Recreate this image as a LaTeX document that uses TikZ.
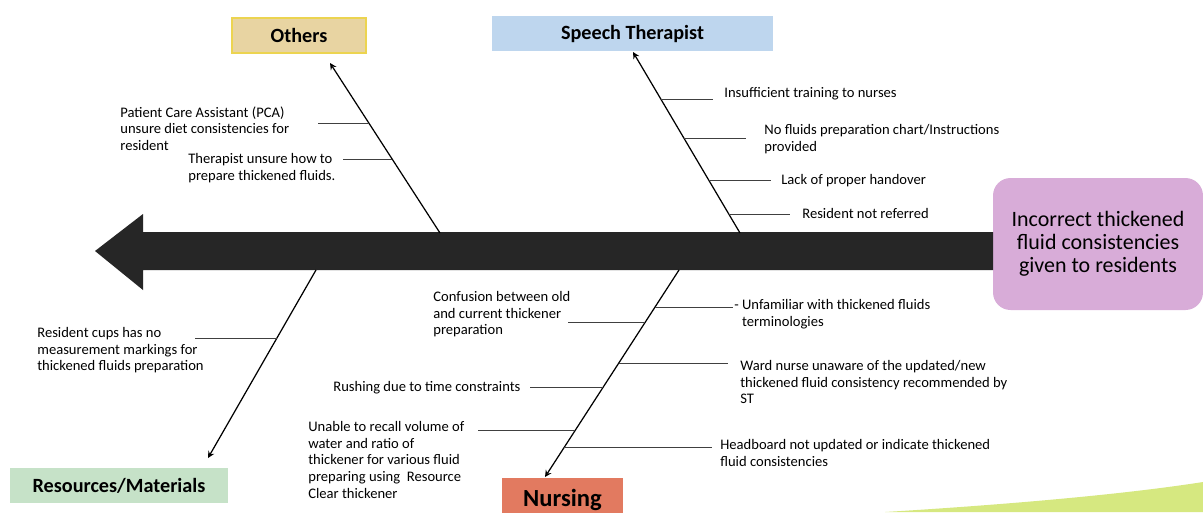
\documentclass[tikz,border=0pt]{standalone}
\usepackage{fontspec}
\setmainfont{Carlito}
\usetikzlibrary{arrows}

\definecolor{spinecol}{RGB}{38,38,38}
\definecolor{othersfill}{RGB}{232,212,162}
\definecolor{othersedge}{RGB}{236,212,80}
\definecolor{speechfill}{RGB}{190,214,238}
\definecolor{resfill}{RGB}{198,226,200}
\definecolor{nursefill}{RGB}{226,122,96}
\definecolor{effectfill}{RGB}{216,172,216}
\definecolor{swoosh}{RGB}{214,232,128}

\begin{document}
\begin{tikzpicture}[x=0.02cm,y=-0.02cm,>=stealth,
    cat/.style={minimum height=0.7cm, inner sep=0pt, font=\fontsize{11.5}{13}\selectfont\bfseries},
    cause/.style={anchor=north west, align=left, inner sep=0pt, font=\fontsize{8.3}{9.5}\selectfont},
    bone/.style={->, line width=0.7pt},
    rib/.style={line width=0.5pt, draw=black!75}]
        \clip (0,0) rectangle (1203,512);
        \fill[white] (0,0) rectangle (1203,512);
        \fill[swoosh] (885,512) .. controls (1000,505) and (1120,495) .. (1203,482) -- (1203,512) -- cycle;

        \node[cat, fill=othersfill, draw=othersedge, line width=1pt, minimum width=2.68cm] (O) at (299,35.5) {Others};
        \node[cat, fill=speechfill, minimum width=5.62cm] (S) at (632.5,33.5) {Speech Therapist};
        \node[cat, fill=resfill, minimum width=4.36cm] (R) at (119,485.5) {Resources/Materials};
        \node[cat, fill=nursefill, minimum width=2.42cm, minimum height=0.9cm, font=\fontsize{14}{16}\selectfont\bfseries] (N) at (562.5,500) {Nursing};
        \node[fill=effectfill, rounded corners=0.35cm, minimum width=4.2cm, minimum height=2.64cm, align=center,
              font=\fontsize{12.5}{13.2}\selectfont] (E) at (1098,244) {Incorrect thickened\\fluid consistencies\\given to residents};

        \fill[spinecol] (993,232) -- (143,232) -- (143,214) -- (95,251) -- (143,290) -- (143,270) -- (993,270) -- cycle;

        \coordinate (oS) at (440,233);
        \coordinate (oT) at (330,63);
        \coordinate (sS) at (740,233);
        \coordinate (sT) at (633,52);
        \coordinate (rS) at (316,270);
        \coordinate (rT) at (208,458);
        \coordinate (nS) at (679,270);
        \coordinate (nT) at (545,477);

        \draw[bone] (oS) -- coordinate[pos=0.647] (o1) coordinate[pos=0.435] (o2) (oT);
        \draw[bone] (sS) -- coordinate[pos=0.74] (s1) coordinate[pos=0.52] (s2) coordinate[pos=0.293] (s3) coordinate[pos=0.105] (s4) (sT);
        \draw[bone] (rS) -- coordinate[pos=0.362] (r1) (rT);
        \draw[bone] (nS) -- coordinate[pos=0.179] (n1) coordinate[pos=0.251] (n2) coordinate[pos=0.449] (n3)
                           coordinate[pos=0.565] (n4) coordinate[pos=0.773] (n5) coordinate[pos=0.855] (n6) (nT);

        \draw[rib] (o1) -- ++(-51,0);
        \draw[rib] (o2) -- ++(-49,0);
        \draw[rib] (s1) -- ++(52,0);
        \draw[rib] (s2) -- ++(62,0);
        \draw[rib] (s3) -- ++(62,0);
        \draw[rib] (s4) -- ++(61,0);
        \draw[rib] (r1) -- ++(-82,0);
        \draw[rib] (n1) -- ++(78,0);
        \draw[rib] (n2) -- ++(-77,0);
        \draw[rib] (n3) -- ++(109,0);
        \draw[rib] (n4) -- ++(-73,0);
        \draw[rib] (n5) -- ++(-97,0);
        \draw[rib] (n6) -- ++(148,0);

        \node[cause] (pca) at (120,106) {Patient Care Assistant (PCA)\\unsure diet consistencies for\\resident};
        \node[cause] (ther) at (188,153) {Therapist unsure how to\\prepare thickened fluids.};
        \node[cause] (train) at (724,87) {Insufficient training to nurses};
        \node[cause] (chart) at (764,124) {No fluids preparation chart/Instructions\\provided};
        \node[cause] (hand) at (781,174) {Lack of proper handover};
        \node[cause] (refer) at (802,208) {Resident not referred};
        \node[cause] (cups) at (37,327) {Resident cups has no\\measurement markings for\\thickened fluids preparation};
        \node[cause] (conf) at (433,291) {Confusion between old\\and current thickener\\preparation};
        \node[cause] (rush) at (333,381) {Rushing due to time constraints};
        \node[cause] (recall) at (308,421) {Unable to recall volume of\\water and ratio of\\thickener for various fluid\\preparing using\ \ Resource\\Clear thickener};
        \node[cause] (unfam) at (734,299) {- Unfamiliar with thickened fluids\\\phantom{- }terminologies};
        \node[cause] (ward) at (740,360) {Ward nurse unaware of the updated/new\\thickened fluid consistency recommended by\\ST};
        \node[cause] (head) at (720,439) {Headboard not updated or indicate thickened\\fluid consistencies};
\end{tikzpicture}
\end{document}
